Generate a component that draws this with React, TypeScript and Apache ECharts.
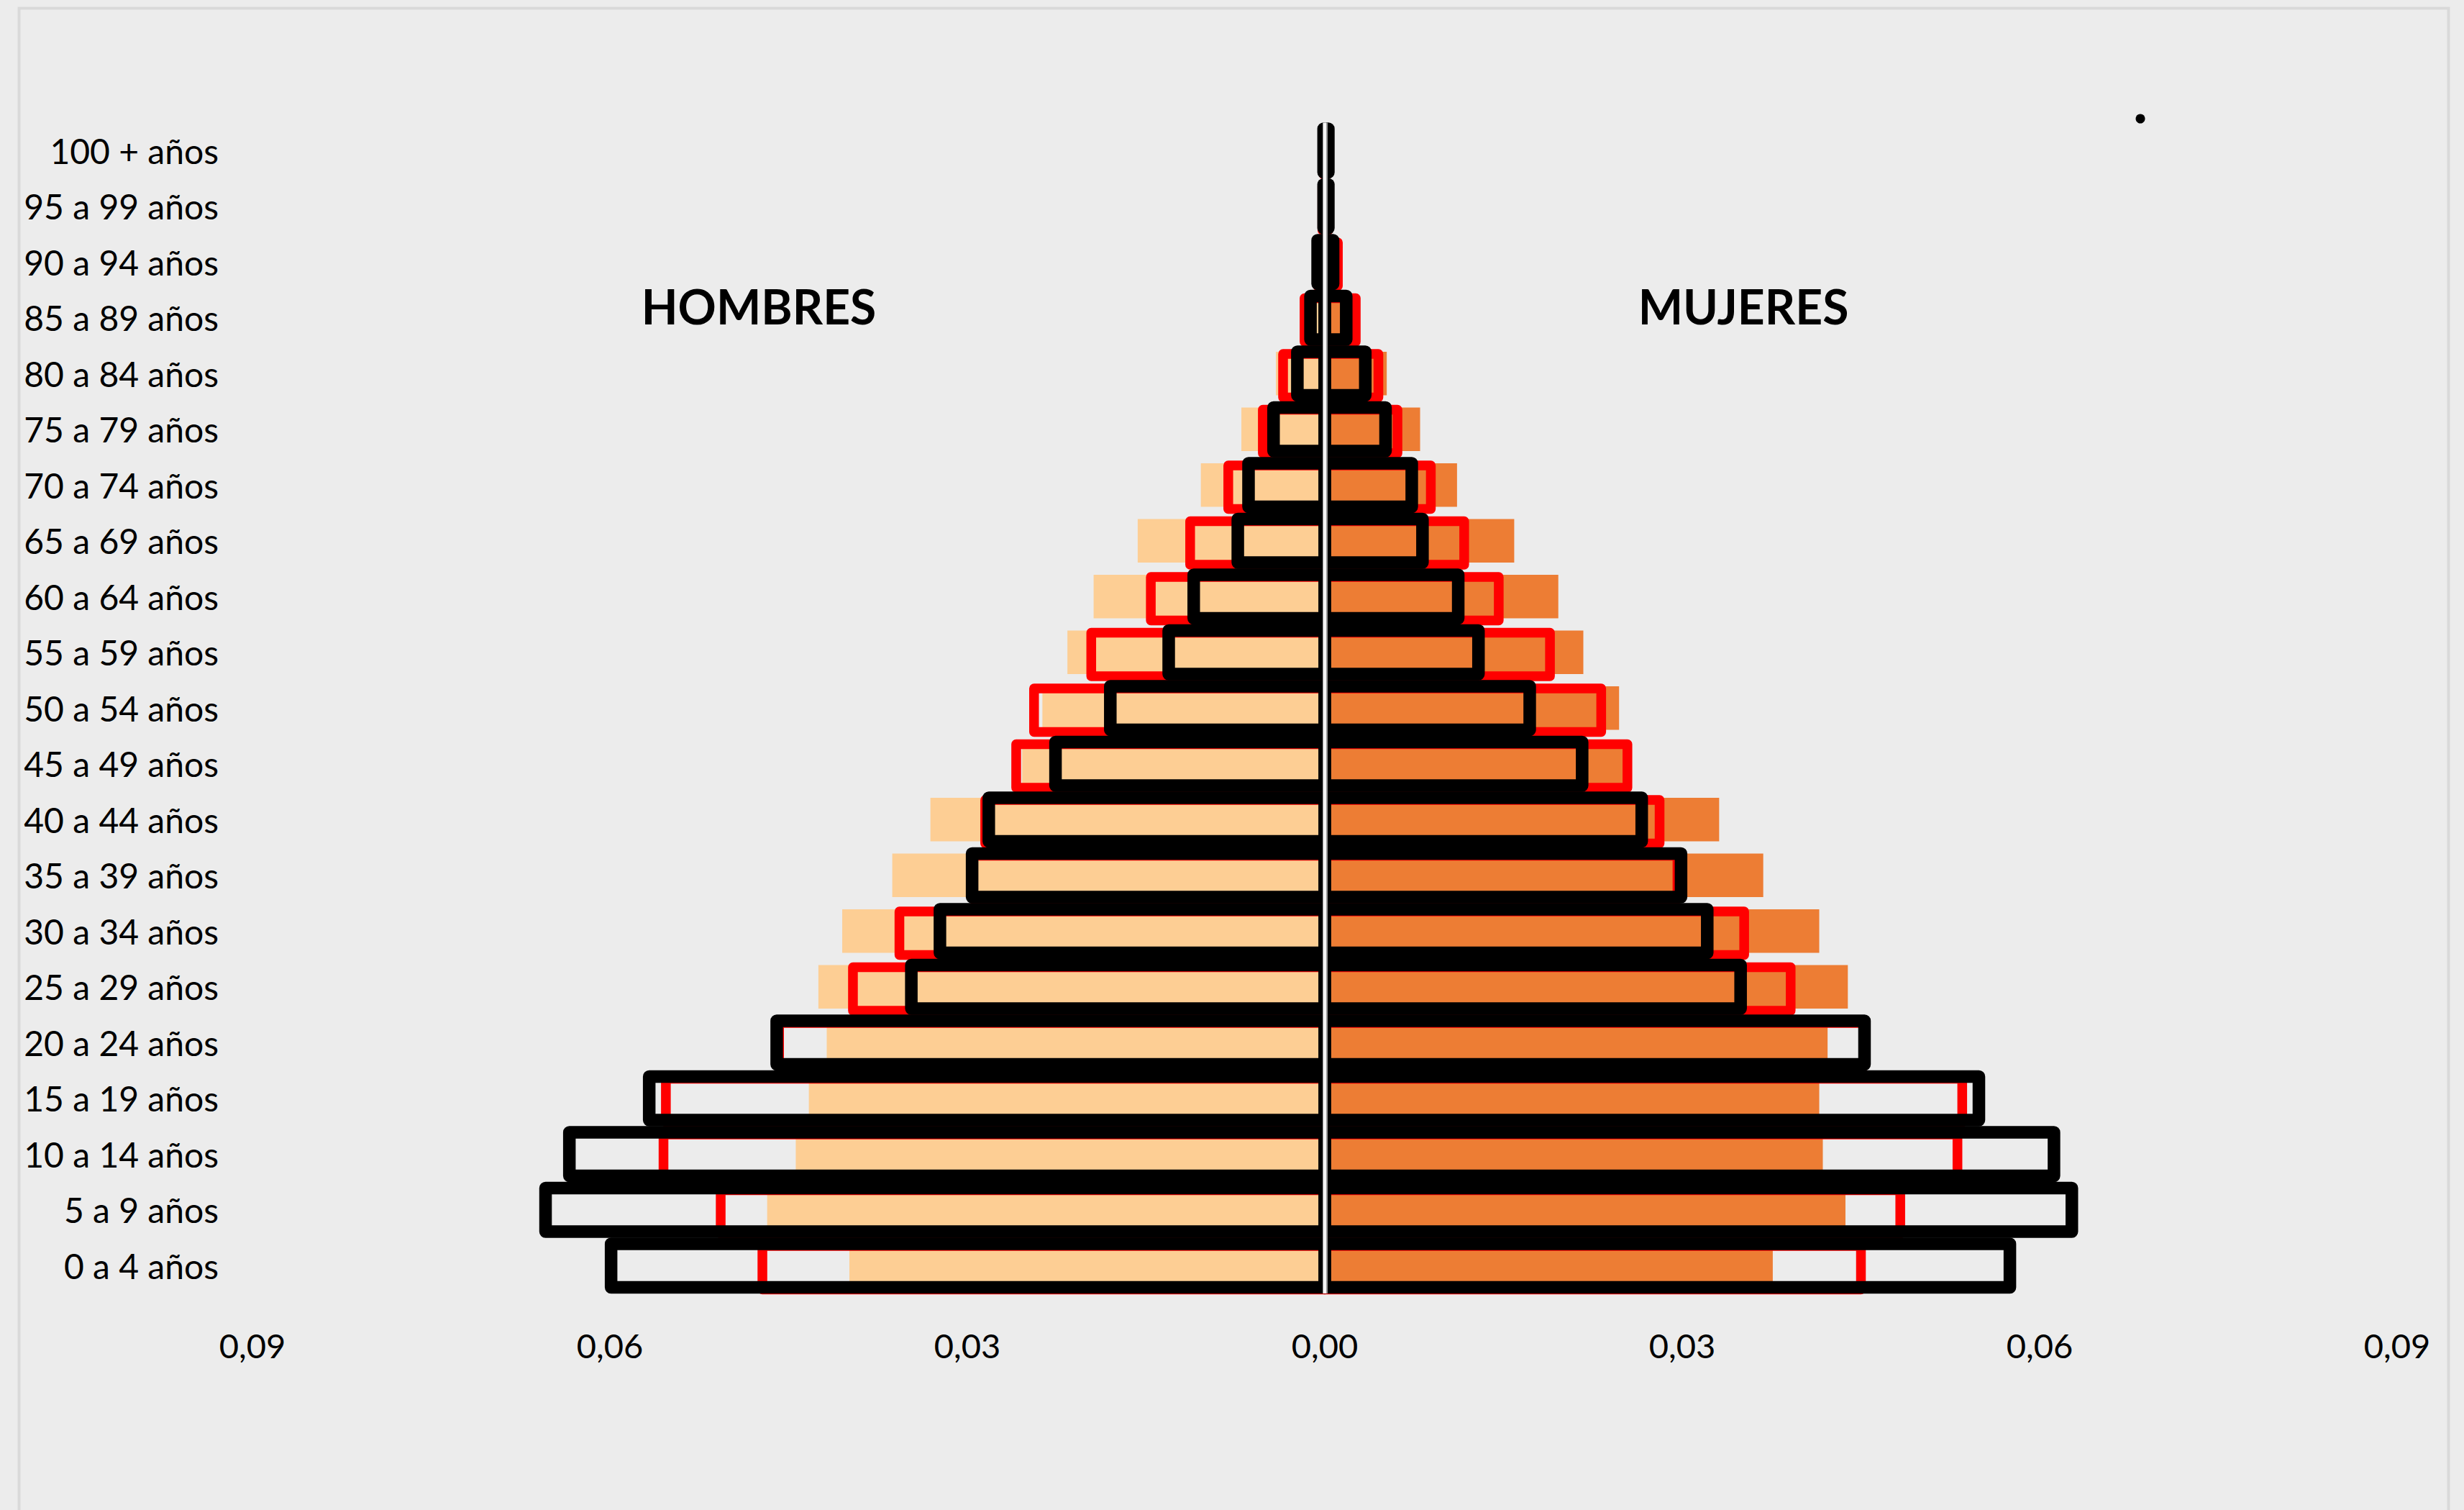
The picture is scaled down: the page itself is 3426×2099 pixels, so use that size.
import React, { useEffect, useRef } from 'react';
import * as echarts from 'echarts';

const AGE_GROUPS = [
  '0 a 4 años', '5 a 9 años', '10 a 14 años', '15 a 19 años', '20 a 24 años',
  '25 a 29 años', '30 a 34 años', '35 a 39 años', '40 a 44 años', '45 a 49 años',
  '50 a 54 años', '55 a 59 años', '60 a 64 años', '65 a 69 años', '70 a 74 años',
  '75 a 79 años', '80 a 84 años', '85 a 89 años', '90 a 94 años', '95 a 99 años',
  '100 + años',
];

// Filled bars
const MEN_FILL = [0.0399, 0.0468, 0.0444, 0.0433, 0.0418, 0.0425, 0.0405, 0.0363, 0.0331, 0.0254, 0.0237, 0.0216, 0.0194, 0.0157, 0.0104, 0.0070, 0.0041, 0.0019, 0.0008, 0.0003, 0.0001];
const WOMEN_FILL = [0.0376, 0.0437, 0.0418, 0.0415, 0.0422, 0.0439, 0.0415, 0.0368, 0.0331, 0.0254, 0.0247, 0.0217, 0.0196, 0.0159, 0.0111, 0.0080, 0.0052, 0.0025, 0.0010, 0.0004, 0.0001];

// Red outlined bars
const MEN_RED = [0.0472, 0.0507, 0.0555, 0.0553, 0.0458, 0.0396, 0.0357, 0.0295, 0.0285, 0.0259, 0.0244, 0.0196, 0.0146, 0.0113, 0.0081, 0.0052, 0.0035, 0.0017, 0.0006, 0.0002, 0.0001];
const WOMEN_RED = [0.0450, 0.0483, 0.0531, 0.0535, 0.0452, 0.0391, 0.0352, 0.0296, 0.0281, 0.0254, 0.0232, 0.0189, 0.0146, 0.0117, 0.0089, 0.0061, 0.0045, 0.0026, 0.0011, 0.0003, 0.0002];

// Black outlined bars
const MEN_BLACK = [0.0599, 0.0654, 0.0634, 0.0567, 0.0460, 0.0347, 0.0323, 0.0296, 0.0282, 0.0226, 0.0180, 0.0131, 0.0110, 0.0073, 0.0064, 0.0043, 0.0023, 0.0012, 0.0006, 0.0001, 0.0001];
const WOMEN_BLACK = [0.0575, 0.0627, 0.0612, 0.0549, 0.0453, 0.0349, 0.0321, 0.0299, 0.0266, 0.0216, 0.0172, 0.0129, 0.0112, 0.0082, 0.0073, 0.0051, 0.0034, 0.0018, 0.0007, 0.0003, 0.0003];

const X_MIN = -0.09;
const X_MAX = 0.09;
const X_STEP = 0.03;

const BAR_RATIO = 0.78;
const FONT = 'Lato, "Noto Sans", sans-serif';

function outlineSeries(name: string, values: number[], sign: number, color: string, lineWidth: number, shiftY: number, z: number) {
  return {
    type: 'custom',
    name,
    z,
    clip: false,
    data: values.map((v, i) => [sign * v, i]),
    encode: { x: 0, y: 1 },
    renderItem: (params: any, api: any) => {
      const v = api.value(0);
      const c = api.value(1);
      const p0 = api.coord([0, c]);
      const p1 = api.coord([v, c]);
      const band = api.size([0, 1])[1];
      const h = band * BAR_RATIO;
      return {
        type: 'rect',
        shape: {
          x: Math.min(p0[0], p1[0]),
          y: p0[1] - h / 2 + shiftY,
          width: Math.abs(p1[0] - p0[0]),
          height: h,
        },
        style: { fill: 'none', stroke: color, lineWidth, lineJoin: 'round' },
      };
    },
  };
}

export default function App() {
  const ref = useRef<HTMLDivElement>(null);

  useEffect(() => {
    if (!ref.current) return;
    const chart = echarts.init(ref.current, undefined, { renderer: 'svg' });
    const option: any = {
      animation: false,
      backgroundColor: '#ececec',
      grid: { left: 351, right: 93, top: 170.5, bottom: 301, containLabel: false },
      xAxis: {
        type: 'value',
        min: X_MIN,
        max: X_MAX,
        interval: X_STEP,
        axisLine: { show: false },
        axisTick: { show: false },
        splitLine: { show: false },
        axisLabel: {
          margin: 48,
          fontSize: 47,
          fontFamily: FONT,
          color: '#000',
          formatter: (v: number) => Math.abs(v).toFixed(2).replace('.', ','),
        },
      },
      yAxis: {
        type: 'category',
        data: AGE_GROUPS,
        axisLine: { show: false, onZero: false },
        axisTick: { show: false },
        splitLine: { show: false },
        axisLabel: {
          margin: 47,
          fontSize: 48,
          fontFamily: FONT,
          color: '#000',
        },
      },
      series: [
        {
          type: 'bar',
          name: 'Hombres',
          z: 2,
          data: MEN_FILL.map((v) => -v),
          barWidth: BAR_RATIO * 100 + '%',
          barGap: '-100%',
          itemStyle: { color: '#FDCE94' },
        },
        {
          type: 'bar',
          name: 'Mujeres',
          z: 2,
          data: WOMEN_FILL,
          barWidth: BAR_RATIO * 100 + '%',
          barGap: '-100%',
          itemStyle: { color: '#ED7D34' },
          markLine: {
            silent: true,
            z: 10,
            symbol: 'none',
            label: { show: false },
            data: [
              { xAxis: 0, lineStyle: { color: '#9a9a9a', width: 7, type: 'solid' } },
              { xAxis: 0, lineStyle: { color: '#f6f6f6', width: 4, type: 'solid' } },
            ],
          },
        },
        outlineSeries('Hombres (rojo)', MEN_RED, -1, '#FF0000', 13.5, 3, 3),
        outlineSeries('Mujeres (rojo)', WOMEN_RED, 1, '#FF0000', 13.5, 3, 3),
        outlineSeries('Hombres (negro)', MEN_BLACK, -1, '#000000', 17.5, 0, 4),
        outlineSeries('Mujeres (negro)', WOMEN_BLACK, 1, '#000000', 17.5, 0, 4),
      ],
      graphic: [
        {
          type: 'rect',
          silent: true,
          shape: { x: 26.5, y: 11.5, width: 3378, height: 2200 },
          style: { fill: 'none', stroke: '#d9d9d9', lineWidth: 4 },
          z: -1,
        },
        {
          type: 'text',
          x: 1055,
          y: 425,
          style: { text: 'HOMBRES', font: 'bold 66px ' + FONT, fill: '#000', textAlign: 'center', textVerticalAlign: 'middle' },
        },
        {
          type: 'text',
          x: 2424,
          y: 425,
          style: { text: 'MUJERES', font: 'bold 66px ' + FONT, fill: '#000', textAlign: 'center', textVerticalAlign: 'middle' },
        },
        {
          type: 'circle',
          shape: { cx: 2976, cy: 165, r: 6.5 },
          style: { fill: '#000' },
        },
      ],
    };
    chart.setOption(option);
    return () => chart.dispose();
  }, []);

  return (
    <div
      ref={ref}
      style={{ position: 'fixed', left: 0, top: 0, width: 3426, height: 2099, background: '#ececec' }}
    />
  );
}
